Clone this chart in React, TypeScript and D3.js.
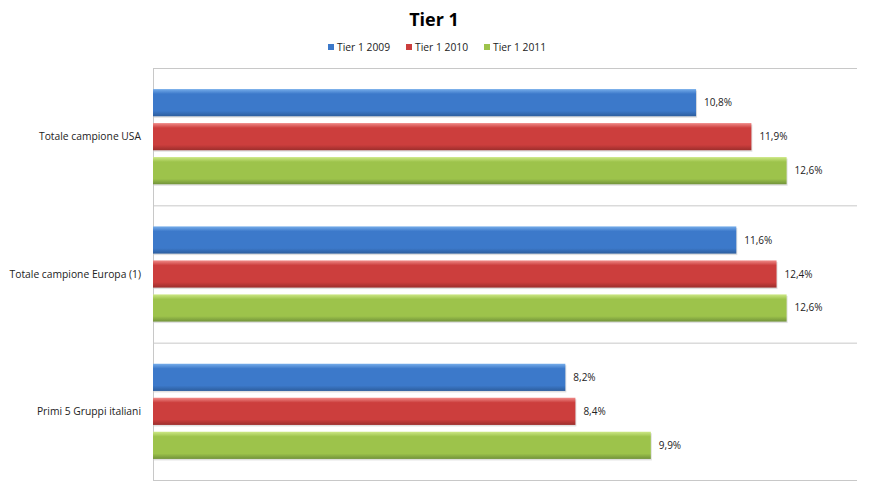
import React from "react";
import * as d3 from "d3";

const categories = ["Totale campione USA", "Totale campione Europa (1)", "Primi 5 Gruppi italiani"];
const seriesNames = ["Tier 1 2009", "Tier 1 2010", "Tier 1 2011"];
const values2009 = [10.8, 11.6, 8.2];
const values2010 = [11.9, 12.4, 8.4];
const values2011 = [12.6, 12.6, 9.9];
const seriesColors = ["#3C79CA", "#CC3E3D", "#9DC34B"];
const lightColors = ["#76ADEA", "#F08B89", "#CDE886"];
const darkColors = ["#2D5E9E", "#9C2E2C", "#72933A"];

const W = 871, H = 493;
const margin = { left: 153, right: 14, top: 68, bottom: 13 };

export default function App() {
  const series = [values2009, values2010, values2011];
  const x = d3.scaleLinear().domain([0, 14]).range([margin.left, W - margin.right]);
  const y0 = d3.scaleBand().domain(categories).range([margin.top, H - margin.bottom]).paddingInner(0).paddingOuter(0);
  const y1 = d3.scaleBand().domain(seriesNames).range([0, y0.bandwidth()]).paddingInner(0.2).paddingOuter(0.62);
  const fmt = (v: number) => v.toFixed(1).replace(".", ",") + "%";
  const font = "'Open Sans', 'DejaVu Sans', sans-serif";

  const legendX = [328, 406, 484];

  return (
    <svg width={W} height={H} style={{ position: "absolute", left: 0, top: 0, background: "#fff" }}>
      <defs>
        {seriesColors.map((c, i) => (
          <linearGradient key={i} id={`g${i}`} x1="0" y1="0" x2="0" y2="1">
            <stop offset="0" stopColor={lightColors[i]} />
            <stop offset="0.18" stopColor={c} />
            <stop offset="0.8" stopColor={c} />
            <stop offset="1" stopColor={darkColors[i]} />
          </linearGradient>
        ))}
      </defs>
      <text x={434} y={26} textAnchor="middle" fontFamily={font} fontWeight="bold" fontSize={18} fill="#000">Tier 1</text>
      {seriesNames.map((s, i) => (
        <g key={s}>
          <rect x={legendX[i]} y={44} width={6} height={6} fill={seriesColors[i]} />
          <text x={legendX[i] + 9} y={50.5} fontFamily={font} fontSize={10.3} fill="#222">{s}</text>
        </g>
      ))}
      {[...categories.map((c) => y0(c)!), H - margin.bottom].map((yy, i) => (
        <line key={i} x1={margin.left} x2={W - margin.right} y1={yy + 0.5} y2={yy + 0.5} stroke="#C8C8C8" />
      ))}
      <line x1={margin.left + 0.5} x2={margin.left + 0.5} y1={margin.top} y2={H - margin.bottom} stroke="#C8C8C8" />
      {categories.map((c, ci) => (
        <g key={c}>
          <text x={141} y={y0(c)! + y0.bandwidth() / 2 + 3.5} textAnchor="end" fontFamily={font} fontSize={10.3} fill="#222">{c}</text>
          {series.map((vals, si) => {
            const yy = y0(c)! + y1(seriesNames[si])!;
            const h = y1.bandwidth();
            return (
              <g key={si}>
                <rect x={x(0) + 1} y={yy + 1.5} width={x(vals[ci]) - x(0)} height={h} fill="#000" opacity={0.12} />
                <rect x={x(0)} y={yy} width={x(vals[ci]) - x(0)} height={h} fill={`url(#g${si})`} />
                <text x={x(vals[ci]) + 8} y={yy + h / 2 + 3.5} fontFamily={font} fontSize={10} fill="#222">{fmt(vals[ci])}</text>
              </g>
            );
          })}
        </g>
      ))}
    </svg>
  );
}
